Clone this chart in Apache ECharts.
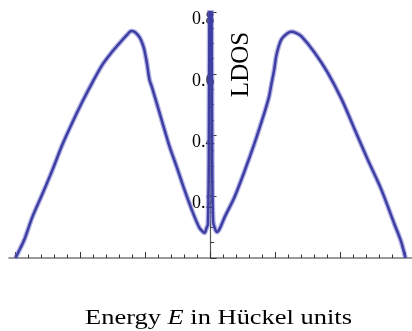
<!DOCTYPE html>
<html>
<head>
<meta charset="utf-8">
<script src="https://cdn.jsdelivr.net/npm/echarts@6/dist/echarts.min.js"></script>
<style>
  html, body { margin: 0; padding: 0; background: #ffffff; }
  #chart { width: 412px; height: 331px; }
</style>
</head>
<body>
<div id="chart"></div>
<script>
// Local density of states against energy (Hückel units)
const energy = [
  -3.0, -2.93, -2.86, -2.74, -2.58, -2.43, -2.28, -2.12, -1.97, -1.81,
  -1.66, -1.51, -1.42, -1.35, -1.28, -1.22, -1.16, -1.09, -1.05, -1.02,
  -0.98, -0.94, -0.90, -0.83, -0.74, -0.63, -0.52, -0.40, -0.27, -0.17,
  -0.12, -0.09, -0.06, -0.04, -0.025, -0.012, 0, 0.012, 0.025, 0.04,
  0.07, 0.10, 0.14, 0.22, 0.37, 0.52, 0.68, 0.83, 0.90, 0.93,
  0.98, 1.01, 1.05, 1.09, 1.16, 1.24, 1.32, 1.40, 1.60, 1.80,
  2.02, 2.22, 2.42, 2.63, 2.83, 2.93, 3.0
];
const ldos = [
  0, 0.030, 0.062, 0.134, 0.212, 0.288, 0.369, 0.444, 0.510, 0.575,
  0.631, 0.673, 0.695, 0.712, 0.728, 0.740, 0.736, 0.719, 0.700, 0.680,
  0.637, 0.582, 0.556, 0.506, 0.441, 0.363, 0.297, 0.222, 0.147, 0.098,
  0.086, 0.082, 0.098, 0.110, 0.35, 1.20, 2.00, 1.20, 0.35, 0.120,
  0.095, 0.085, 0.095, 0.134, 0.199, 0.281, 0.376, 0.474, 0.525, 0.559,
  0.614, 0.657, 0.690, 0.712, 0.728, 0.737, 0.733, 0.722, 0.670, 0.605,
  0.516, 0.418, 0.320, 0.222, 0.110, 0.055, 0
];
const majorTicksX = [-3, -2, -1, 0, 1, 2, 3];
const yTickLabels = ['0.2', '0.4', '0.6', '0.8'];

const minorTicksX = [];
for (let k = -15; k <= 15; k++) minorTicksX.push(k / 5);

const points = energy.map((e, i) => [e, ldos[i]]);

const serif = 'Liberation Serif';
const gridLeft = 9;
const gridWidth = 403;
const xMin = -3.1, xMax = 3.1;
// shift the vertical axis from the grid's left edge to E = 0
const yAxisShift = -gridWidth * (0 - xMin) / (xMax - xMin);

const chart = echarts.init(document.getElementById('chart'), null, { renderer: 'canvas' });

chart.setOption({
  animation: false,
  backgroundColor: '#ffffff',
  grid: { left: gridLeft, width: gridWidth, top: 12.5, bottom: 73,
          containLabel: false, outerBoundsMode: 'none' },
  xAxis: [
    {
      type: 'value', min: xMin, max: xMax, position: 'bottom',
      axisLine: { show: true, onZero: false, lineStyle: { color: '#7a7a7a', width: 1.5 } },
      axisTick: { show: true, inside: true, length: 3.5, customValues: minorTicksX,
                  lineStyle: { color: '#333333', width: 1 } },
      axisLabel: { show: false },
      splitLine: { show: false }
    },
    {
      type: 'value', min: xMin, max: xMax, position: 'bottom', gridIndex: 0,
      axisLine: { show: false, onZero: false },
      axisTick: { show: true, inside: true, length: 6, customValues: majorTicksX,
                  lineStyle: { color: '#333333', width: 1 } },
      axisLabel: { show: false },
      splitLine: { show: false }
    }
  ],
  yAxis: {
    type: 'value', min: 0, max: 0.8, interval: 0.2, position: 'left',
    offset: yAxisShift,
    axisLine: { show: true, onZero: false, lineStyle: { color: '#555555', width: 1.2 } },
    axisTick: { show: true, inside: true, length: 6, lineStyle: { color: '#333333' } },
    minorTick: { show: true, splitNumber: 4, length: 3.5, lineStyle: { color: '#333333' } },
    axisLabel: {
      show: true, margin: -4, color: '#000000', fontFamily: serif, fontSize: 18,
      verticalAlign: 'top', lineHeight: 14,
      formatter: v => {
        const s = v.toFixed(1);
        return yTickLabels.indexOf(s) >= 0 ? s : '';
      }
    },
    splitLine: { show: false }
  },
  series: [
    {
      type: 'line', data: points, xAxisIndex: 0, showSymbol: false, smooth: 0.3,
      clip: true, silent: true, z: 2,
      lineStyle: { color: 'rgba(120,120,210,0.55)', width: 5 }
    },
    {
      type: 'line', data: points, xAxisIndex: 0, showSymbol: false, smooth: 0.3,
      clip: true, silent: true, z: 3,
      lineStyle: { color: '#3e3ea2', width: 2.5 }
    }
  ],
  graphic: [
    {
      type: 'text', x: 241, y: 64.5, rotation: Math.PI / 2, z: 10,
      style: { text: 'LDOS', fontFamily: serif, fontSize: 25, fill: '#000000',
               align: 'center', verticalAlign: 'middle' }
    },
    {
      type: 'text', x: 218.5, y: 318.7, scaleX: 1.26, z: 10,
      style: {
        text: '{a|Energy }{b|E}{a| in Hückel units}',
        align: 'center', verticalAlign: 'middle', fill: '#000000',
        rich: {
          a: { fontFamily: serif, fontSize: 21, fill: '#000000' },
          b: { fontFamily: serif, fontSize: 21, fontStyle: 'italic', fill: '#000000' }
        }
      }
    }
  ]
});
</script>
</body>
</html>
